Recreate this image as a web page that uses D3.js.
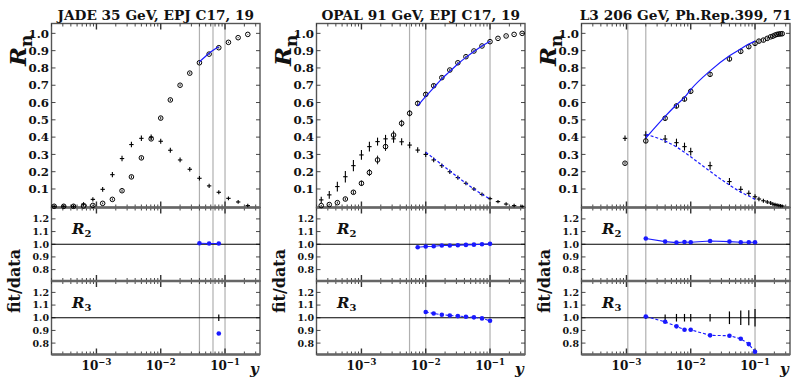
<!DOCTYPE html>
<html>
<head>
<meta charset="utf-8">
<script src="https://cdn.jsdelivr.net/npm/d3@7"></script>
<style>
  body { margin: 0; background: #fff; }
  text { font-family: "DejaVu Serif", serif; font-weight: bold; fill: #111; }
</style>
</head>
<body>
<svg id="chart" width="792" height="379"></svg>
<script>
// ---- JADE 35 GeV ----
const jadeY   = [0.00022,0.00031,0.00044,0.00063,0.00088,0.00125,0.00177,0.0025,0.0035,0.005,0.0071,0.01,0.0141,0.02,0.0283,0.04,0.0566,0.08,0.113,0.16,0.226];
const jadeR2  = [0.0,0.0,0.0,0.002,0.005,0.017,0.04,0.09,0.17,0.28,0.39,0.51,0.615,0.70,0.77,0.83,0.88,0.917,0.948,0.975,0.994];
const jadeR3  = [0.0,0.0,0.0,0.013,0.04,0.098,0.183,0.276,0.357,0.393,0.40,0.376,0.324,0.268,0.214,0.162,0.118,0.081,0.046,0.025,0.004];
const jadeR2Err = [0.002,0.002,0.002,0.003,0.004,0.005,0.006,0.007,0.008,0.008,0.008,0.008,0.007,0.006,0.006,0.006,0.005,0.005,0.004,0.003,0.002];
const jadeR3Err = [0.001,0.001,0.002,0.003,0.004,0.006,0.007,0.008,0.008,0.008,0.007,0.007,0.006,0.006,0.005,0.005,0.004,0.004,0.003,0.003,0.002];
const jadeFitX2 = [0.04,0.0566,0.08];
const jadeFitR2 = [0.835,0.885,0.922];
const jadeFitX3 = [0.08];
const jadeFitR3 = [];
const jadeRatio2 = [1.008,1.006,1.006];
const jadeRatio3 = [0.876];
const jadeRatio3Err = [0.025];
const jadeCuts = [0.04,0.065,0.1];

// ---- OPAL 91 GeV ----
const opalY   = [0.000237,0.000316,0.000422,0.000562,0.00075,0.001,0.00133,0.00178,0.00237,0.00316,0.00422,0.00562,0.0075,0.01,0.0133,0.0178,0.0237,0.0316,0.0422,0.0562,0.075,0.1,0.133,0.178,0.237,0.316];
const opalR2  = [0.004,0.01,0.021,0.042,0.081,0.133,0.195,0.268,0.345,0.412,0.48,0.538,0.595,0.647,0.697,0.744,0.788,0.83,0.865,0.898,0.927,0.952,0.971,0.985,0.994,1.0];
const opalR3  = [0.037,0.066,0.114,0.171,0.235,0.297,0.345,0.374,0.39,0.39,0.373,0.354,0.325,0.30,0.268,0.235,0.20,0.166,0.133,0.10,0.069,0.044,0.027,0.013,0.004,0.0];
const opalR2Err = [0.004,0.005,0.006,0.008,0.01,0.015,0.02,0.025,0.025,0.025,0.02,0.018,0.015,0.012,0.01,0.008,0.007,0.006,0.006,0.005,0.004,0.004,0.003,0.003,0.002,0.002];
const opalR3Err = [0.01,0.015,0.02,0.025,0.025,0.02,0.02,0.015,0.015,0.015,0.012,0.01,0.008,0.007,0.006,0.005,0.005,0.004,0.004,0.003,0.003,0.003,0.002,0.002,0.002,0.001];
const opalFitX2 = [0.0075,0.01,0.0133,0.0178,0.0237,0.0316,0.0422,0.0562,0.075,0.1];
const opalFitR2 = [0.58,0.635,0.686,0.737,0.78,0.823,0.861,0.895,0.927,0.955];
const opalFitX3 = [0.01,0.0133,0.0178,0.0237,0.0316,0.0422,0.0562,0.075,0.1];
const opalFitR3 = [0.313,0.277,0.241,0.204,0.168,0.134,0.1,0.069,0.043];
const opalRatio2 = [0.976,0.982,0.984,0.99,0.99,0.992,0.995,0.997,1.0,1.003];
const opalRatio3 = [1.045,1.034,1.024,1.018,1.013,1.008,1.003,0.995,0.976];
const opalRatio3Err = [];
const opalCuts = [0.0056,0.01,0.1];

// ---- L3 206 GeV ----
const l3Y   = [0.00095,0.002,0.004,0.006,0.008,0.01,0.02,0.04,0.06,0.08,0.1,0.115,0.135,0.155,0.175,0.19,0.205,0.22,0.235,0.25,0.265];
const l3R2  = [0.249,0.378,0.509,0.58,0.62,0.665,0.763,0.852,0.896,0.923,0.942,0.955,0.961,0.971,0.98,0.984,0.99,0.994,0.996,0.997,0.998];
const l3R3  = [0.393,0.412,0.389,0.368,0.345,0.316,0.235,0.143,0.098,0.075,0.055,0.042,0.032,0.025,0.019,0.013,0.010,0.007,0.005,0.003,0.002];
const l3R2Err = [0.008,0.012,0.014,0.014,0.014,0.014,0.014,0.014,0.014,0.013,0.012,0.01,0.009,0.008,0.007,0.006,0.005,0.005,0.004,0.004,0.003];
const l3R3Err = [0.008,0.014,0.015,0.015,0.015,0.015,0.015,0.012,0.01,0.008,0.006,0.005,0.004,0.004,0.003,0.003,0.002,0.002,0.002,0.002,0.001];
const l3FitX = [0.002,0.004,0.006,0.008,0.01,0.02,0.04,0.06,0.08,0.1];
const l3FitR2 = [0.395,0.52,0.587,0.63,0.675,0.783,0.87,0.91,0.938,0.955];
const l3FitR3 = [0.416,0.377,0.343,0.312,0.286,0.202,0.123,0.082,0.059,0.040];
const l3Ratio2 = [1.045,1.021,1.013,1.018,1.016,1.026,1.021,1.016,1.016,1.016];
const l3Ratio3 = [1.01,0.968,0.932,0.905,0.905,0.861,0.858,0.834,0.792,0.732];
const l3Ratio3Err = [0.01,0.026,0.03,0.03,0.03,0.03,0.05,0.058,0.06,0.07];
const l3Cuts = [0.00105,0.002,0.1];

const mainTicks = [0.1,0.2,0.3,0.4,0.5,0.6,0.7,0.8,0.9,1.0];
const ratioTicks = [0.8,0.9,1.0,1.1,1.2];
const xLabels = [{v:1e-3, e:"−3"},{v:1e-2, e:"−2"},{v:1e-1, e:"−1"}];

const panels = [
  { title: "JADE 35 GeV, EPJ C17, 19", x: jadeY, r2: jadeR2, r3: jadeR3, e2: jadeR2Err, e3: jadeR3Err,
    fx2: jadeFitX2, f2: jadeFitR2, fx3: jadeFitX3, f3: jadeFitR3, q2: jadeRatio2, q3: jadeRatio3, q3e: jadeRatio3Err, cuts: jadeCuts },
  { title: "OPAL 91 GeV, EPJ C17, 19", x: opalY, r2: opalR2, r3: opalR3, e2: opalR2Err, e3: opalR3Err,
    fx2: opalFitX2, f2: opalFitR2, fx3: opalFitX3, f3: opalFitR3, q2: opalRatio2, q3: opalRatio3, q3e: opalRatio3Err, cuts: opalCuts },
  { title: "L3 206 GeV, Ph.Rep.399, 71", x: l3Y, r2: l3R2, r3: l3R3, e2: l3R2Err, e3: l3R3Err,
    fx2: l3FitX, f2: l3FitR2, fx3: l3FitX, f3: l3FitR3, q2: l3Ratio2, q3: l3Ratio3, q3e: l3Ratio3Err, cuts: l3Cuts }
];

// layout
const L = 51.5, R = 260, STEP = 265;
const mainTop = 23.5, mainBot = 207.5, r2Bot = 281, r3Bot = 354.5;
const BLUE = "#1a1aff";

const svg = d3.select("#chart");

function drawFrame(g, x, y, y0, y1, yt) {
  g.append("rect").attr("x", L).attr("y", y0).attr("width", R - L).attr("height", y1 - y0)
    .attr("fill", "none").attr("stroke", "#555").attr("stroke-width", 1.4);
  const xt = x.ticks().map(t => ({ t, major: Math.abs(Math.log10(t) - Math.round(Math.log10(t))) < 1e-6 }));
  const tk = g.append("g").attr("stroke", "#333").attr("stroke-width", 0.9);
  tk.selectAll(".xt").data(xt).join("line")
    .attr("x1", d => x(d.t)).attr("x2", d => x(d.t))
    .attr("y1", y0).attr("y2", d => y0 + (d.major ? 6 : 3))
    .attr("stroke-width", d => d.major ? 1.4 : 0.9);
  tk.selectAll(".xb").data(xt).join("line")
    .attr("x1", d => x(d.t)).attr("x2", d => x(d.t))
    .attr("y1", y1).attr("y2", d => y1 - (d.major ? 6 : 3))
    .attr("stroke-width", d => d.major ? 1.4 : 0.9);
  tk.selectAll(".yl").data(yt).join("line")
    .attr("x1", L).attr("x2", L + 4).attr("y1", d => y(d)).attr("y2", d => y(d));
  tk.selectAll(".yr").data(yt).join("line")
    .attr("x1", R).attr("x2", R - 4).attr("y1", d => y(d)).attr("y2", d => y(d));
}

function drawPanel(p, i) {
  const g = svg.append("g").attr("transform", `translate(${i * STEP},0)`);
  const x = d3.scaleLog().domain([2e-4, 0.35]).range([L, R]);
  const yM = d3.scaleLinear().domain([-0.007, 1.057]).range([mainBot, mainTop]);
  const yQ2 = d3.scaleLinear().domain([0.71, 1.29]).range([r2Bot, mainBot]);
  const yQ3 = d3.scaleLinear().domain([0.71, 1.29]).range([r3Bot, r2Bot]);

  // cut lines
  g.selectAll(".cut").data(p.cuts).join("line")
    .attr("x1", d => x(d)).attr("x2", d => x(d))
    .attr("y1", mainTop).attr("y2", r3Bot)
    .attr("stroke", "#b0b0b0").attr("stroke-width", 1.2);

  drawFrame(g, x, yM, mainTop, mainBot, mainTicks);
  drawFrame(g, x, yQ2, mainBot, r2Bot, ratioTicks);
  drawFrame(g, x, yQ3, r2Bot, r3Bot, ratioTicks);

  // panel separators a bit heavier
  g.selectAll(".sep").data([mainBot, r2Bot, r3Bot]).join("line")
    .attr("x1", L).attr("x2", R).attr("y1", d => d).attr("y2", d => d)
    .attr("stroke", "#666").attr("stroke-width", 2.4);

  // unity lines in ratio panels
  [yQ2, yQ3].forEach(yq => {
    g.append("line").attr("x1", L).attr("x2", R).attr("y1", yq(1)).attr("y2", yq(1))
      .attr("stroke", "#000").attr("stroke-width", 1.1);
  });

  // tick labels
  g.selectAll(".ml").data(mainTicks).join("text")
    .attr("x", L - 2.5).attr("y", d => yM(d)).attr("dy", "0.36em")
    .attr("text-anchor", "end").attr("font-size", 11.8).text(d => d.toFixed(1));
  [yQ2, yQ3].forEach(yq => {
    g.selectAll(null).data(ratioTicks).join("text")
      .attr("x", L - 2.5).attr("y", d => yq(d)).attr("dy", "0.36em")
      .attr("text-anchor", "end").attr("font-size", 9.5).text(d => d.toFixed(1));
  });
  const xl = g.selectAll(".xl").data(xLabels).join("text")
    .attr("x", d => x(d.v)).attr("y", 370).attr("text-anchor", "middle").attr("font-size", 12);
  xl.append("tspan").text("10");
  xl.append("tspan").attr("dy", -5).attr("font-size", 8.5).text(d => d.e);

  // titles and axis names
  g.append("text").attr("x", (L + R) / 2).attr("y", 19.5).attr("text-anchor", "middle")
    .attr("font-size", 13.7).text(p.title);
  const rn = g.append("text").attr("transform", "translate(26,66) rotate(-90)").attr("font-size", 23);
  rn.append("tspan").attr("font-style", "italic").text("R");
  rn.append("tspan").attr("dy", 6).attr("font-size", 17).text("n");
  g.append("text").attr("transform", `translate(20,${(mainBot + r3Bot) / 2}) rotate(-90)`)
    .attr("text-anchor", "middle").attr("font-size", 16).text("fit/data");
  [[yQ2, "2"], [yQ3, "3"]].forEach(([yq, s]) => {
    const t = g.append("text").attr("x", 72).attr("y", yq(1.08)).attr("font-size", 15);
    t.append("tspan").attr("font-style", "italic").text("R");
    t.append("tspan").attr("dy", 3).attr("font-size", 10).text(s);
  });
  g.append("text").attr("x", 250).attr("y", 374).attr("font-size", 15).attr("font-style", "italic").text("y");

  // data points in main panel
  const pts = p.x.map((v, k) => ({ x: v, r2: p.r2[k], r3: p.r3[k], e2: p.e2[k], e3: p.e3[k] }));
  const dg = g.append("g").attr("stroke", "#000").attr("fill", "none");
  dg.selectAll(".e2").data(pts).join("line")
    .attr("x1", d => x(d.x)).attr("x2", d => x(d.x))
    .attr("y1", d => yM(d.r2 - d.e2)).attr("y2", d => yM(d.r2 + d.e2)).attr("stroke-width", 0.9);
  dg.selectAll(".c2").data(pts).join("circle")
    .attr("cx", d => x(d.x)).attr("cy", d => yM(d.r2)).attr("r", 2.3).attr("stroke-width", 1);
  dg.selectAll(".e3").data(pts).join("line")
    .attr("x1", d => x(d.x)).attr("x2", d => x(d.x))
    .attr("y1", d => yM(d.r3 - d.e3 - 0.008)).attr("y2", d => yM(d.r3 + d.e3 + 0.008)).attr("stroke-width", 1.1);
  dg.selectAll(".h3").data(pts).join("line")
    .attr("x1", d => x(d.x) - 2.2).attr("x2", d => x(d.x) + 2.2)
    .attr("y1", d => yM(d.r3)).attr("y2", d => yM(d.r3)).attr("stroke-width", 1.1);

  // fit curves
  const line = yy => d3.line().x(d => x(d[0])).y(d => yy(d[1])).curve(d3.curveMonotoneX);
  g.append("path").datum(p.fx2.map((v, k) => [v, p.f2[k]]))
    .attr("d", line(yM)).attr("fill", "none").attr("stroke", BLUE).attr("stroke-width", 1.2);
  g.append("path").datum(p.f3.map((v, k) => [p.fx3[k], v]))
    .attr("d", line(yM)).attr("fill", "none").attr("stroke", BLUE).attr("stroke-width", 1.2)
    .attr("stroke-dasharray", "3,2");

  // ratio error bars (data uncertainty around 1)
  const q3x = p.fx3.slice(p.fx3.length - p.q3.length);
  g.selectAll(".qe").data(p.q3e.map((v, k) => [q3x[k], v])).join("line")
    .attr("x1", d => x(d[0])).attr("x2", d => x(d[0]))
    .attr("y1", d => yQ3(1 - d[1])).attr("y2", d => yQ3(1 + d[1]))
    .attr("stroke", "#000").attr("stroke-width", 1.2);

  // ratio points
  const q2d = p.q2.map((v, k) => [p.fx2[k], v]);
  const q3d = p.q3.map((v, k) => [q3x[k], v]);
  g.append("path").datum(q2d).attr("d", d3.line().x(d => x(d[0])).y(d => yQ2(d[1])))
    .attr("fill", "none").attr("stroke", BLUE).attr("stroke-width", 1.1);
  g.append("path").datum(q3d).attr("d", d3.line().x(d => x(d[0])).y(d => yQ3(d[1])))
    .attr("fill", "none").attr("stroke", BLUE).attr("stroke-width", 1.1).attr("stroke-dasharray", "3,2");
  g.selectAll(".q2").data(q2d).join("circle")
    .attr("cx", d => x(d[0])).attr("cy", d => yQ2(d[1])).attr("r", 2.3).attr("fill", BLUE);
  g.selectAll(".q3").data(q3d).join("circle")
    .attr("cx", d => x(d[0])).attr("cy", d => yQ3(d[1])).attr("r", 2.3).attr("fill", BLUE);
}

panels.forEach(drawPanel);
</script>
</body>
</html>
